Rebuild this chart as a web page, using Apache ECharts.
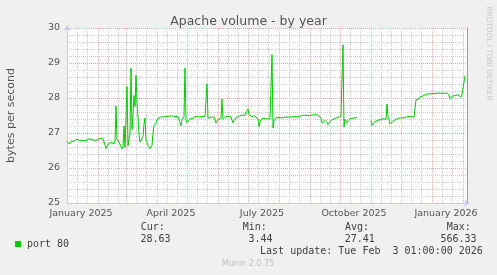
<!DOCTYPE html>
<html><head><meta charset="utf-8">
<script src="https://cdn.jsdelivr.net/npm/echarts@6/dist/echarts.min.js"></script>
<style>html,body{margin:0;padding:0;background:#f0f0f0}#c{width:497px;height:275px}</style>
</head><body><div id="c"></div>
<script>
const chartTitle = 'Apache volume - by year';
const yAxisName = 'bytes per second';
const seriesName = 'port 80';
const startDate = '2025-01-01';
const endDate = '2026-02-05';
const yMin = 25, yMax = 30, yStep = 1;
const xLabelDates = ['2025-01-15','2025-04-15','2025-07-15','2025-10-15','2026-01-15'];
const xLabelTexts = ['January 2025','April 2025','July 2025','October 2025','January 2026'];
const monthGridDates = ['2025-02-01','2025-03-01','2025-04-01','2025-05-01','2025-06-01','2025-07-01','2025-08-01','2025-09-01','2025-10-01','2025-11-01','2025-12-01','2026-01-01','2026-02-01'];
const minorGridDays = [11, 21];
// one value per day since startDate
const portValues = [
26.74,26.72,26.76,26.69,26.75,26.78,26.80,26.77,26.81,26.79,
26.82,26.80,26.83,26.78,26.76,26.81,26.79,26.82,26.80,26.77,
26.81,26.83,26.80,26.78,26.82,26.84,26.81,26.79,26.83,26.82,
26.80,26.84,26.83,26.85,26.82,26.84,26.83,26.83,26.66,26.55,
26.62,26.68,26.71,26.70,26.73,26.74,26.72,26.69,26.76,27.77,
26.82,26.78,26.74,26.72,26.69,26.55,26.62,27.20,26.58,26.62,
28.33,26.63,26.58,27.00,28.86,27.10,27.52,28.07,27.76,28.65,
27.86,27.47,26.95,26.74,26.76,26.78,26.90,27.26,27.43,26.78,
26.73,26.66,26.62,26.55,26.52,26.64,27.00,27.21,27.25,27.30,
27.38,27.36,27.42,27.45,27.44,27.47,27.46,27.48,27.45,27.47,
27.49,27.46,27.48,27.50,27.47,27.49,27.50,27.48,27.47,27.49,
27.48,27.47,27.45,27.29,27.21,27.38,27.42,27.47,28.86,27.38,
27.30,27.26,27.35,27.40,27.43,27.45,27.42,27.46,27.44,27.48,
27.47,27.50,27.46,27.45,27.49,27.47,27.48,27.44,27.46,27.45,
28.41,27.42,27.38,27.43,27.45,27.47,27.44,27.46,27.44,27.29,
27.33,27.38,27.41,27.43,27.42,27.97,27.39,27.42,27.45,27.47,
27.46,27.48,27.45,27.47,27.46,27.37,27.29,27.35,27.40,27.44,
27.47,27.49,27.48,27.50,27.49,27.51,27.50,27.52,27.51,27.50,
27.52,27.69,27.52,27.48,27.55,27.47,27.50,27.47,27.49,27.45,
27.44,27.40,27.19,27.30,27.39,27.41,27.39,27.42,27.38,27.41,
27.40,27.42,27.39,27.41,27.43,29.24,27.14,27.35,27.40,27.43,
27.38,27.42,27.45,27.41,27.44,27.43,27.47,27.45,27.46,27.44,
27.48,27.45,27.47,27.50,27.46,27.48,27.49,27.47,27.50,27.48,
27.46,27.49,27.51,27.48,27.50,27.49,27.51,27.50,27.48,27.50,
27.52,27.51,27.49,27.51,27.50,27.52,27.51,27.53,27.52,27.51,
27.53,27.52,27.54,27.55,27.42,27.29,27.33,27.30,27.36,27.33,
27.30,27.24,27.27,27.32,27.35,27.38,27.33,27.38,27.41,27.43,
27.40,27.45,27.43,27.47,27.48,27.47,29.52,27.17,27.39,27.40,
27.29,27.35,27.33,27.41,27.38,27.40,27.42,27.41,27.43,27.44,
27.44,null,null,null,null,null,null,null,null,null,
null,null,null,null,27.35,27.21,27.26,27.30,27.33,27.31,
27.35,27.36,27.34,27.38,27.36,27.39,27.41,27.40,27.43,27.39,
27.83,27.45,27.38,27.26,27.27,27.30,27.33,27.35,27.37,27.39,
27.38,27.41,27.43,27.42,27.44,27.43,27.45,27.46,27.44,27.46,
27.45,27.47,27.46,27.44,27.47,27.46,27.43,27.45,27.42,27.95,
27.98,27.90,27.97,28.03,28.05,28.07,28.06,28.09,28.08,28.10,
28.11,28.10,28.12,28.11,28.13,28.12,28.14,28.13,28.13,28.14,
28.13,28.14,28.13,28.13,28.14,28.13,28.14,28.13,28.14,28.13,
28.14,28.13,28.08,27.98,28.02,28.05,28.06,28.05,28.07,28.08,
28.10,28.09,28.10,28.05,28.03,28.10,28.09,28.12,28.63
];
const legendHeaders = ['Cur:','Min:','Avg:','Max:'];
const legendValues = ['28.63','3.44','27.41','566.33'];
const lastUpdate = 'Last update: Tue Feb  3 01:00:00 2026';
const footer = 'Munin 2.0.75';
const sideText = 'RRDTOOL / TOBI OETIKER';

const DAY = 86400000;
const t0 = new Date(startDate).getTime();
const tEnd = new Date(endDate).getTime();
const seriesData = portValues.map((v, i) => [t0 + i * DAY, v]);
const xLabelTimes = xLabelDates.map(d => new Date(d).getTime());
const gridData = [];
['2025-01-01'].concat(monthGridDates).forEach(m => {
  const base = new Date(m);
  minorGridDays.forEach(dd => {
    const t = Date.UTC(base.getUTCFullYear(), base.getUTCMonth(), dd);
    if (t < tEnd) gridData.push([t, 0]);
  });
});
monthGridDates.forEach(d => gridData.push([new Date(d).getTime(), 1]));

const MINOR_C = '#cccccc', MAJOR_C = '#eea0a0', MAJOR_V = '#f2b4b4';
const MONO = '"DejaVu Sans Mono", monospace';
const SANS = '"DejaVu Sans", sans-serif';
const chart = echarts.init(document.getElementById('c'));
const graphics = [];
const colX = [140.7, 242.7, 345, 446.7];
legendHeaders.forEach((h, i) => {
  graphics.push({type:'text', x: colX[i], y: 227.5, style:{text:h, font:'10px ' + MONO, fill:'#404040', textAlign:'left', textVerticalAlign:'middle'}});
  graphics.push({type:'text', x: colX[i] + 29.8, y: 239.8, style:{text:legendValues[i], font:'10px ' + MONO, fill:'#404040', textAlign:'right', textVerticalAlign:'middle'}});
});
graphics.push({type:'text', x: 482.8, y: 251.8, style:{text:lastUpdate, font:'10px ' + MONO, fill:'#404040', textAlign:'right', textVerticalAlign:'middle'}});
graphics.push({type:'text', x: 248, y: 264, style:{text:footer, font:'8px ' + SANS, fill:'#c0c0c0', textAlign:'center', textVerticalAlign:'middle'}});
graphics.push({type:'text', x: 488.8, y: 53.5, rotation: -Math.PI/2, style:{text:sideText, font:'7.3px ' + SANS, fill:'#c8c8c8', textAlign:'center', textVerticalAlign:'middle'}});

chart.setOption({
  animation: false,
  backgroundColor: '#f0f0f0',
  title: {text: chartTitle, left: 'center', top: 10, textStyle:{fontFamily: SANS, fontSize: 12.5, fontWeight:'normal', color:'#555'}},
  legend: {data:[seriesName], left: 10, top: 234, icon: 'rect', itemWidth: 6, itemHeight: 6, itemGap: 10,
    textStyle:{fontFamily: MONO, fontSize: 10, color:'#404040', padding:[0,0,0,1]}},
  grid: {left: 67, right: 30, top: 28, bottom: 72, show: true, backgroundColor: '#ffffff', borderWidth: 0,
    containLabel: false, outerBoundsMode: 'none'},
  xAxis: {type:'value', min: t0, max: tEnd,
    axisLine:{show:true, onZero:false, symbol:['none','arrow'], symbolSize:[5,6], symbolOffset:[0,3], lineStyle:{color:'#c8c8f0', width:1}},
    axisTick:{show:false}, splitLine:{show:false},
    axisLabel:{customValues: xLabelTimes, formatter: v => xLabelTexts[xLabelTimes.indexOf(v)] || '', fontFamily: SANS, fontSize: 9.5, color:'#555', margin: 6}},
  yAxis: [{type:'value', min: yMin, max: yMax, interval: yStep,
    name: yAxisName, nameLocation:'middle', nameRotate: 90, nameGap: 50, nameTextStyle:{fontFamily: SANS, fontSize: 11, color:'#555'},
    axisLine:{show:true, symbol:['none','arrow'], symbolSize:[5,6], symbolOffset:[0,3], lineStyle:{color:'#c8c8f0', width:1}},
    axisTick:{show:false},
    axisLabel:{fontFamily: SANS, fontSize: 9.5, color:'#555', margin: 7},
    splitLine:{show:true, lineStyle:{color: MAJOR_C, type:[1,1], width:1}},
    minorTick:{show:false, splitNumber:5},
    minorSplitLine:{show:true, lineStyle:{color: MINOR_C, type:[1,1], width:1}}},
   {type:'value', min: yMin, max: yMax, position:'right', axisLine:{show:true, lineStyle:{color:'#999', width:1}}, axisTick:{show:false}, axisLabel:{show:false}, splitLine:{show:false}}],
  graphic: graphics,
  series: [
    {type:'custom', name:'grid', data: gridData, silent: true, z: 1, clip: false,
     renderItem: (params, api) => {
       const t = api.value(0);
       const p0 = api.coord([t, yMin]);
       const p1 = api.coord([t, yMax]);
       const x = Math.round(p0[0] - 0.5) + 0.5;
       return {type:'line', silent:true,
         shape:{x1:x, y1:Math.round(p0[1]), x2:x, y2:Math.round(p1[1])},
         style:{stroke: api.value(1) ? MAJOR_V : MINOR_C, lineWidth:1, lineDash:[1,1]}};
     }},
    {type:'line', name: seriesName, data: seriesData, showSymbol:false, connectNulls:false, z:5,
     lineStyle:{color:'#00cc00', width:1}, itemStyle:{color:'#00cc00'}}
  ]
});
</script></body></html>
